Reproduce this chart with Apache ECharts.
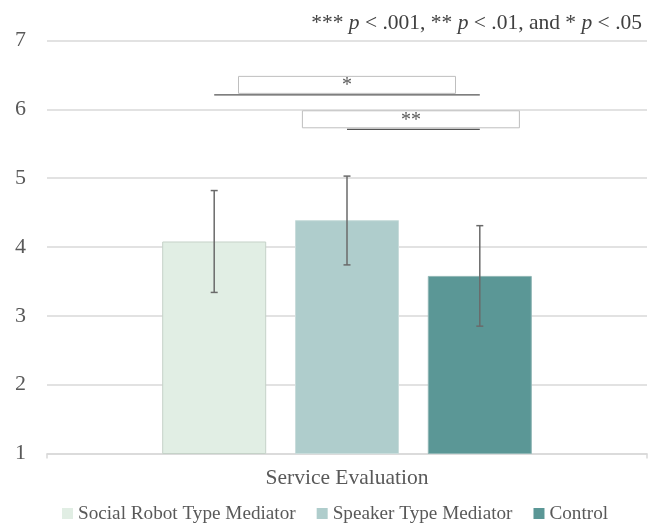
<!DOCTYPE html>
<html>
<head>
<meta charset="utf-8">
<script src="https://cdn.jsdelivr.net/npm/echarts@6/dist/echarts.min.js"></script>
<style>
html,body{margin:0;padding:0;background:#fff;}
#main{width:652px;height:523px;}
</style>
</head>
<body>
<div id="main"></div>
<script>
// ---- data ----
const categories = ['Service Evaluation'];
const seriesNames = ['Social Robot Type Mediator', 'Speaker Type Mediator', 'Control'];
const means = [4.08, 4.39, 3.58];
const errLow = [3.34, 3.74, 2.85];
const errHigh = [4.82, 5.03, 4.31];
const yTicks = [1, 2, 3, 4, 5, 6, 7];
const sigPairs = [[0, 2], [1, 2]];
const sigLevels = [6.21, 5.71];
const sigLabels = ['*', '**'];

// ---- styles ----
const colors = ['#E1EEE4', '#AFCDCC', '#5B9796'];
const borders = ['#c5d2c8', '#c9dcdb', '#8fb6b5'];
const FONT = '"Liberation Serif", "Times New Roman", serif';
const BAR_W = 104;
const GAP_PX = 28.8;
const step = BAR_W + GAP_PX;
const offsetOf = i => (i - (seriesNames.length - 1) / 2) * step;

const chart = echarts.init(document.getElementById('main'), null, {renderer: 'canvas'});

const barSeries = seriesNames.map((name, i) => ({
  name: name,
  type: 'bar',
  barWidth: BAR_W,
  barGap: (GAP_PX / BAR_W * 100).toFixed(2) + '%',
  data: [means[i]],
  itemStyle: {color: colors[i], borderColor: borders[i], borderWidth: 1},
  emphasis: {disabled: true},
  z: 2
}));

const errSeries = {
  type: 'custom',
  name: 'err',
  silent: true,
  z: 5,
  data: seriesNames.map((n, i) => [0, errLow[i], errHigh[i], i]),
  encode: {x: 0, y: [1, 2]},
  renderItem: function (params, api) {
    const idx = api.value(3);
    const lo = api.coord([api.value(0), api.value(1)]);
    const hi = api.coord([api.value(0), api.value(2)]);
    const x = lo[0] + offsetOf(idx);
    const cap = 3.5;
    const st = {stroke: '#6a6a6a', lineWidth: 1.5};
    return {
      type: 'group',
      children: [
        {type: 'line', shape: {x1: x, y1: lo[1], x2: x, y2: hi[1]}, style: st},
        {type: 'line', shape: {x1: x - cap, y1: lo[1], x2: x + cap, y2: lo[1]}, style: st},
        {type: 'line', shape: {x1: x - cap, y1: hi[1], x2: x + cap, y2: hi[1]}, style: st}
      ]
    };
  }
};

const sigSeries = {
  type: 'custom',
  name: 'sig',
  silent: true,
  z: 6,
  data: sigPairs.map((p, k) => [0, sigLevels[k], p[0], p[1], k]),
  encode: {x: 0, y: 1},
  renderItem: function (params, api) {
    const k = api.value(4);
    const base = api.coord([api.value(0), api.value(1)]);
    const xa = base[0] + offsetOf(api.value(2));
    const xb = base[0] + offsetOf(api.value(3));
    const y = base[1];
    const mid = (xa + xb) / 2 - (k === 1 ? 2.5 : 0);
    const bw = 217, bh = 17;
    return {
      type: 'group',
      children: [
        {type: 'rect', shape: {x: mid - bw / 2, y: y - bh - 1.5, width: bw, height: bh},
          style: {fill: '#fff', stroke: '#bfbfbf', lineWidth: 1}},
        {type: 'line', shape: {x1: xa, y1: y, x2: xb, y2: y},
          style: {stroke: '#555', lineWidth: 1.2}},
        {type: 'text', x: mid, y: y - bh / 2 - 0.5,
          style: {text: sigLabels[k], fill: '#595959', font: '20px ' + FONT, align: 'center', verticalAlign: 'middle'}}
      ]
    };
  }
};

const option = {
  animation: false,
  backgroundColor: '#fff',
  title: {
    right: 5, top: 7,
    text: '{a|*** }{p|p}{a| < .001, ** }{p|p}{a| < .01, and * }{p|p}{a| < .05}',
    textStyle: {
      fontWeight: 'normal',
      rich: {
        a: {fontFamily: FONT, fontSize: 21.5, color: '#404040', fontWeight: 'normal'},
        p: {fontFamily: FONT, fontSize: 21.5, color: '#404040', fontStyle: 'italic', fontWeight: 'normal'}
      }
    }
  },
  legend: {
    data: seriesNames,
    top: 499,
    left: 57,
    itemWidth: 11,
    itemHeight: 11,
    itemGap: 21,
    icon: 'rect',
    itemStyle: {borderWidth: 0},
    textStyle: {fontFamily: FONT, fontSize: 19.2, color: '#595959'}
  },
  grid: {left: 47, right: 5, top: 40.5, bottom: 69.5, containLabel: false},
  xAxis: {
    type: 'category',
    data: categories,
    axisLine: {lineStyle: {color: '#d9d9d9', width: 1.5}},
    axisTick: {show: true, length: 5, lineStyle: {color: '#d9d9d9', width: 1.5}},
    axisLabel: {fontFamily: FONT, fontSize: 21.5, color: '#595959', margin: 14}
  },
  yAxis: {
    type: 'value',
    min: yTicks[0],
    max: yTicks[yTicks.length - 1],
    interval: 1,
    axisLine: {show: false},
    axisTick: {show: false},
    axisLabel: {fontFamily: FONT, fontSize: 22, color: '#595959', margin: 21},
    splitLine: {lineStyle: {color: '#d9d9d9', width: 1.5}}
  },
  series: barSeries.concat([errSeries, sigSeries])
};

chart.setOption(option);
</script>
</body>
</html>
